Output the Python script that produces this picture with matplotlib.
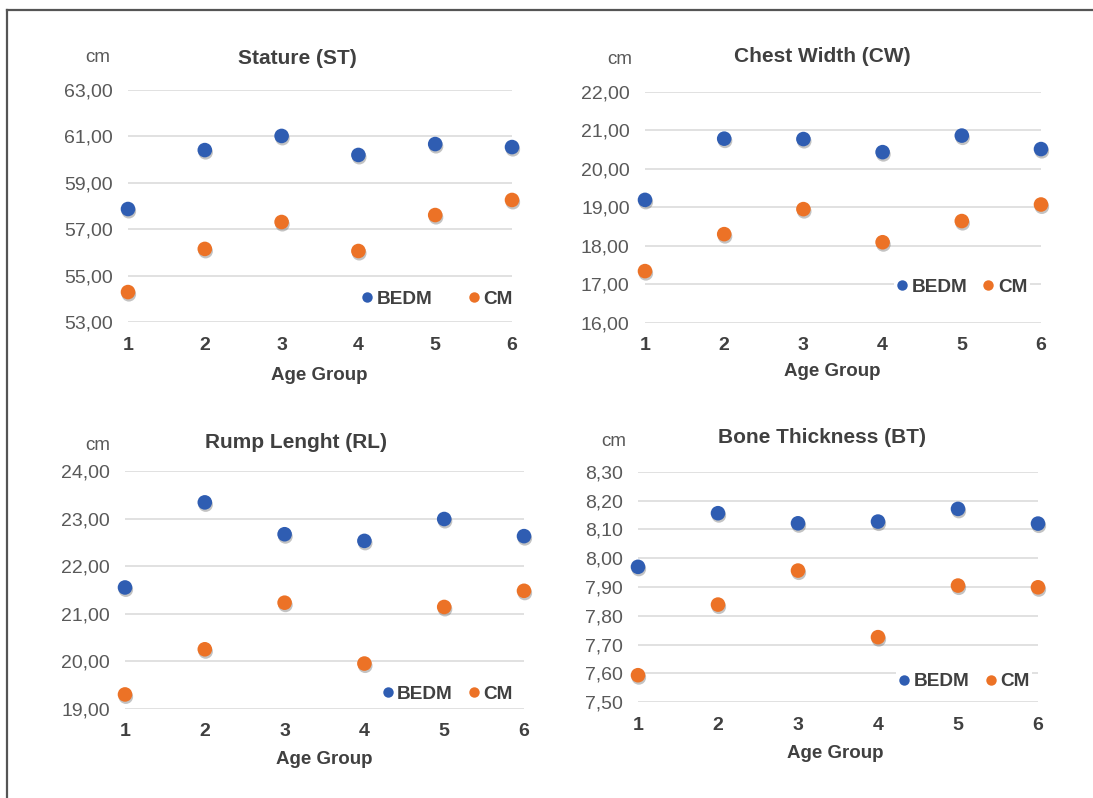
import matplotlib
matplotlib.use("Agg")
import matplotlib.pyplot as plt
import matplotlib.patheffects as pe
from matplotlib.lines import Line2D

plt.rcParams['font.family'] = ['Liberation Sans', 'DejaVu Sans']

W, H = 1093, 798

age_groups = [1, 2, 3, 4, 5, 6]

titles = ["Stature (ST)", "Chest Width (CW)", "Rump Lenght (RL)", "Bone Thickness (BT)"]

st_bedm = [57.87, 60.41, 61.02, 60.20, 60.67, 60.54]
st_cm = [54.29, 56.15, 57.31, 56.06, 57.61, 58.26]
st_ticks = [53, 55, 57, 59, 61, 63]

cw_bedm = [19.19, 20.78, 20.77, 20.43, 20.86, 20.51]
cw_cm = [17.34, 18.30, 18.95, 18.09, 18.64, 19.07]
cw_ticks = [16, 17, 18, 19, 20, 21, 22]

rl_bedm = [21.55, 23.34, 22.67, 22.53, 22.99, 22.63]
rl_cm = [19.30, 20.25, 21.23, 19.95, 21.14, 21.48]
rl_ticks = [19, 20, 21, 22, 23, 24]

bt_bedm = [7.97, 8.156, 8.121, 8.127, 8.171, 8.120]
bt_cm = [7.594, 7.839, 7.957, 7.726, 7.905, 7.899]
bt_ticks = [7.5, 7.6, 7.7, 7.8, 7.9, 8.0, 8.1, 8.2, 8.3]

series_names = ["BEDM", "CM"]
BLUE = "#2F5DB2"
ORANGE = "#EC7226"

panels = [
    dict(title=titles[0], bedm=st_bedm, cm=st_cm, ticks=st_ticks,
         box=(128, 512, 90, 322), cm_xy=(98, 58), title_xy=(297, 58),
         xlabel_xy=(319, 376), leg=(0.805, 0.099), colsp=1.9),
    dict(title=titles[1], bedm=cw_bedm, cm=cw_cm, ticks=cw_ticks,
         box=(645, 1041, 91.7, 322.7), cm_xy=(620, 60), title_xy=(822, 56),
         xlabel_xy=(832, 372), leg=(0.80, 0.153), colsp=0.8),
    dict(title=titles[2], bedm=rl_bedm, cm=rl_cm, ticks=rl_ticks,
         box=(125, 524, 471, 708.7), cm_xy=(98, 445), title_xy=(296, 442),
         xlabel_xy=(324, 759), leg=(0.808, 0.061), colsp=0.8),
    dict(title=titles[3], bedm=bt_bedm, cm=bt_cm, ticks=bt_ticks,
         box=(638, 1038, 471.7, 702.3), cm_xy=(614, 441), title_xy=(822, 437),
         xlabel_xy=(835, 753), leg=(0.815, 0.089), colsp=0.8),
]

fig = plt.figure(figsize=(W / 100, H / 100), dpi=100)
fig.patch.set_facecolor("white")

# figure border (top and left)
fig.add_artist(Line2D([7 / W, 7 / W], [0, 1 - 10 / H], transform=fig.transFigure,
                      color="#555555", lw=1.6))
fig.add_artist(Line2D([7 / W, 1], [1 - 10 / H, 1 - 10 / H], transform=fig.transFigure,
                      color="#555555", lw=1.6))

shadow = [pe.SimplePatchShadow(offset=(0.6, -1.6), shadow_rgbFace="#555555", alpha=0.35),
          pe.Normal()]

for p in panels:
    x0, x1, yt, yb = p["box"]
    ax = fig.add_axes([x0 / W, 1 - yb / H, (x1 - x0) / W, (yb - yt) / H])
    ax.set_xlim(1, 6)
    ax.set_ylim(p["ticks"][0], p["ticks"][-1])
    ax.set_yticks(p["ticks"])
    ax.set_yticklabels([f"{t:.2f}".replace(".", ",") for t in p["ticks"]],
                       fontsize=14, color="#595959")
    ax.set_xticks(age_groups)
    ax.set_xticklabels([str(a) for a in age_groups], fontsize=14,
                       fontweight="bold", color="#404040")
    ax.tick_params(axis="y", length=0, pad=11)
    ax.tick_params(axis="x", length=0, pad=10.5)
    for s in ax.spines.values():
        s.set_visible(False)
    ax.grid(axis="y", color="#DCDCDC", lw=1.2)
    ax.set_axisbelow(True)
    ax.plot(age_groups, p["bedm"], "o", color=BLUE, ms=10.5, mew=0,
            clip_on=False, path_effects=shadow, zorder=3)
    ax.plot(age_groups, p["cm"], "o", color=ORANGE, ms=10.5, mew=0,
            clip_on=False, path_effects=shadow, zorder=3)
    handles = [Line2D([], [], marker="o", ls="none", color=BLUE, ms=7.5, mew=0),
               Line2D([], [], marker="o", ls="none", color=ORANGE, ms=7.5, mew=0)]
    leg = ax.legend(handles, series_names, loc="center", bbox_to_anchor=p["leg"],
                    ncol=2, frameon=True, facecolor="white", edgecolor="none",
                    framealpha=1, fancybox=False, handlelength=0.6,
                    handletextpad=0.2, columnspacing=p["colsp"], borderpad=0.15,
                    prop=dict(size=13.7, weight="bold"))
    for t in leg.get_texts():
        t.set_color("#404040")
    fig.text(p["cm_xy"][0] / W, 1 - p["cm_xy"][1] / H, "cm", fontsize=13.5,
             color="#595959", ha="center", va="center")
    fig.text(p["title_xy"][0] / W, 1 - p["title_xy"][1] / H, p["title"], fontsize=15,
             fontweight="bold", color="#404040", ha="center", va="center")
    fig.text(p["xlabel_xy"][0] / W, 1 - p["xlabel_xy"][1] / H, "Age Group",
             fontsize=13.5, fontweight="bold", color="#404040", ha="center", va="center")

fig.savefig("out.png", dpi=100)
